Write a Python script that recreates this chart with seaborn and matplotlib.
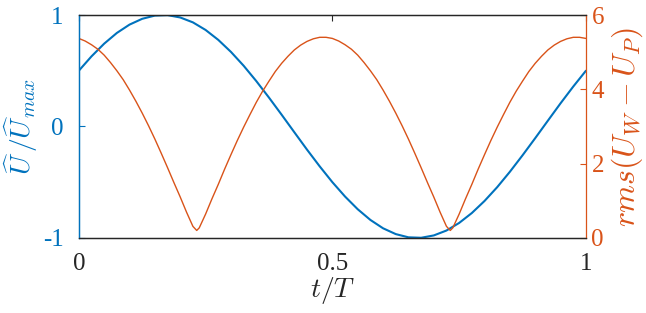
import numpy as np
import pandas as pd
import matplotlib
matplotlib.use("Agg")
import matplotlib.pyplot as plt
import seaborn as sns

# phase-averaged velocity (left axis)
t_u = [0.0, 0.025, 0.05, 0.075, 0.1, 0.125, 0.15, 0.175, 0.2, 0.225,
       0.25, 0.275, 0.3, 0.325, 0.35, 0.375, 0.4, 0.425, 0.45, 0.475,
       0.5, 0.525, 0.55, 0.575, 0.6, 0.625, 0.65, 0.675, 0.7, 0.725,
       0.75, 0.775, 0.8, 0.825, 0.85, 0.875, 0.9, 0.925, 0.95, 0.975, 1.0]
u_norm = [0.500, 0.629, 0.743, 0.839, 0.914, 0.966, 0.995, 0.999, 0.978, 0.934,
          0.866, 0.777, 0.669, 0.545, 0.407, 0.259, 0.105, -0.052, -0.208, -0.358,
          -0.500, -0.629, -0.743, -0.839, -0.914, -0.966, -0.995, -0.999, -0.978, -0.934,
          -0.866, -0.777, -0.669, -0.545, -0.407, -0.259, -0.105, 0.052, 0.208, 0.358, 0.500]

# rms(U_W - U_P) (right axis)
t_rms = [0.0, 0.0125, 0.025, 0.0375, 0.05, 0.0625, 0.075, 0.0875, 0.1, 0.1125,
         0.125, 0.1375, 0.15, 0.1625, 0.175, 0.1875, 0.2, 0.2125, 0.225, 0.2325,
         0.2375, 0.25, 0.2625, 0.275, 0.2875, 0.3, 0.3125, 0.325, 0.3375, 0.35,
         0.3625, 0.375, 0.3875, 0.4, 0.4125, 0.425, 0.4375, 0.45, 0.4625, 0.475,
         0.4875, 0.5, 0.5125, 0.525, 0.5375, 0.55, 0.5625, 0.575, 0.5875, 0.6,
         0.6125, 0.625, 0.6375, 0.65, 0.6625, 0.675, 0.6875, 0.7, 0.7125, 0.725,
         0.7325, 0.7375, 0.75, 0.7625, 0.775, 0.7875, 0.8, 0.8125, 0.825, 0.8375,
         0.85, 0.8625, 0.875, 0.8875, 0.9, 0.9125, 0.925, 0.9375, 0.95, 0.9625,
         0.975, 0.9875, 1.0]
rms = [5.37, 5.30, 5.20, 5.08, 4.92, 4.72, 4.50, 4.26, 3.98, 3.68,
       3.36, 3.02, 2.66, 2.28, 1.89, 1.49, 1.10, 0.69, 0.31, 0.20,
       0.27, 0.64, 1.05, 1.44, 1.85, 2.24, 2.62, 2.98, 3.32, 3.65,
       3.95, 4.22, 4.48, 4.70, 4.89, 5.06, 5.19, 5.29, 5.36, 5.40,
       5.40, 5.37, 5.30, 5.20, 5.08, 4.92, 4.72, 4.50, 4.26, 3.98,
       3.68, 3.36, 3.02, 2.66, 2.28, 1.89, 1.49, 1.10, 0.69, 0.31,
       0.20, 0.27, 0.64, 1.05, 1.44, 1.85, 2.24, 2.62, 2.98, 3.32,
       3.65, 3.95, 4.22, 4.48, 4.70, 4.89, 5.06, 5.19, 5.29, 5.36,
       5.40, 5.40, 5.37]

blue = "#0072BD"
orange = "#D95319"
grey = "#262626"

sns.set_style("white")
plt.rcParams['font.family'] = ['Liberation Serif', 'DejaVu Serif']
plt.rcParams['mathtext.fontset'] = 'cm'

df_u = pd.DataFrame({'t': t_u, 'u': u_norm})
df_r = pd.DataFrame({'t': t_rms, 'rms': rms})

fig = plt.figure(figsize=(6.46, 3.13), dpi=100)
ax = fig.add_axes([0.122, 0.24, 0.785, 0.712])
ax2 = ax.twinx()

sns.lineplot(data=df_u, x='t', y='u', ax=ax, color=blue, lw=1.5)
sns.lineplot(data=df_r, x='t', y='rms', ax=ax2, color=orange, lw=1.0)

ax.set_xlim(0, 1)
ax.set_ylim(-1, 1)
ax2.set_ylim(0, 6)
ax.set_xticks([0, 0.5, 1])
ax.set_xticklabels(['0', '0.5', '1'])
ax.set_yticks([-1, 0, 1])
ax.set_yticklabels(['-1', '0', '1'])
ax2.set_yticks([0, 2, 4, 6])
ax2.set_yticklabels(['0', '2', '4', '6'])

for a in (ax, ax2):
    for s in a.spines.values():
        s.set_linewidth(0.9)
        s.set_color(grey)
ax2.spines['left'].set_color(blue)
ax2.spines['right'].set_color(orange)
ax.spines['left'].set_color(blue)
ax.spines['right'].set_visible(False)

ax.tick_params(axis='x', direction='in', colors=grey, labelsize=18, length=4, top=True, pad=11)
ax.tick_params(axis='y', direction='in', colors=blue, labelsize=18, length=4, pad=11)
ax2.tick_params(axis='y', direction='in', colors=orange, labelsize=18, length=4, pad=4)

ax.set_xlabel(r'$t/T$', fontsize=20, color=grey, labelpad=0)
ax.set_ylabel(r'$\widehat{U}\,/\widehat{U}_{max}$', fontsize=20, color=blue, labelpad=2)
ax2.set_ylabel(r'$rms(U_W-U_P)$', fontsize=23, color=orange, labelpad=4)

fig.savefig("out.png", dpi=100)
